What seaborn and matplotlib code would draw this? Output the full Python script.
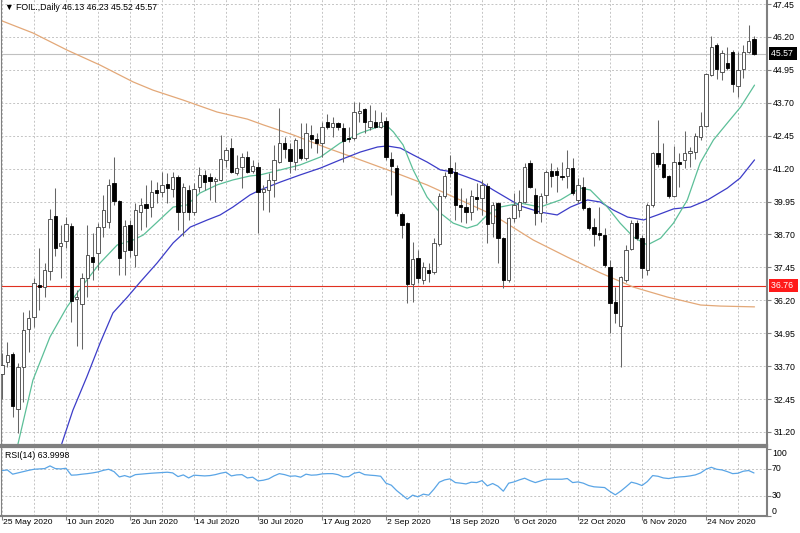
import matplotlib
matplotlib.use('Agg')
import matplotlib.pyplot as plt
import seaborn as sns
import pandas as pd
import numpy as np
from matplotlib.transforms import blended_transform_factory as btf

# ---------------- data ----------------
opens = [33.39, 33.84, 34.15, 32.06, 33.65, 35.10, 35.55, 36.77, 36.69, 37.30,
         39.39, 38.25, 38.44, 39.01, 36.24, 36.05, 37.04, 37.83, 37.99, 38.97,
         39.16, 40.65, 39.96, 38.06, 39.05, 37.91, 39.54, 39.85, 39.73, 40.38,
         40.30, 40.61, 40.42, 40.87, 39.54, 40.38, 39.54, 40.49, 40.95, 40.87,
         40.72, 40.76, 41.52, 41.98, 41.03, 41.25, 41.63, 41.10, 41.25, 40.30,
         40.38, 40.76, 41.44, 42.17, 41.94, 41.44, 41.94, 41.60, 42.47, 42.32,
         42.17, 42.96, 42.77, 42.93, 42.74, 42.36, 42.36, 43.31, 43.46, 42.77,
         42.96, 42.77, 43.00, 41.56, 41.22, 39.47, 39.13, 36.81, 37.80, 36.96,
         37.34, 37.26, 38.33, 40.15, 41.22, 41.06, 39.81, 39.73, 39.54, 40.11,
         40.08, 40.53, 39.13, 39.89, 38.56, 36.96, 39.32, 39.62, 39.92, 41.41,
         40.19, 39.51, 40.19, 41.10, 41.10, 40.91, 40.91, 41.22, 40.00, 40.49,
         39.70, 38.97, 38.75, 38.67, 37.45, 36.12, 35.21, 36.96, 38.14, 39.13,
         38.56, 37.34, 39.81, 41.79, 41.37, 40.91, 40.15, 41.44, 41.52, 41.79,
         41.82, 42.39, 42.81, 44.75, 45.89, 44.86, 45.21, 45.62, 44.33, 44.98,
         45.62, 46.13]
highs = [34.19, 34.60, 34.22, 33.81, 35.74, 35.82, 37.04, 38.18, 37.61, 39.66,
         40.46, 39.05, 39.35, 39.12, 36.58, 37.23, 39.05, 38.75, 39.13, 40.19,
         40.80, 41.63, 40.00, 39.24, 39.24, 39.89, 40.08, 40.57, 40.76, 40.68,
         41.06, 41.03, 41.06, 40.95, 40.65, 40.57, 40.65, 41.25, 41.14, 41.03,
         40.87, 42.47, 42.01, 42.36, 41.71, 41.79, 41.86, 41.52, 41.44, 40.57,
         41.03, 42.09, 43.50, 42.39, 42.17, 42.36, 42.93, 42.93, 42.85, 42.55,
         42.96, 43.27, 43.15, 42.96, 42.93, 42.77, 43.72, 43.72, 43.50, 43.61,
         43.42, 43.34, 43.15, 41.82, 41.33, 39.54, 39.16, 38.40, 38.10, 37.64,
         37.61, 38.56, 40.27, 41.06, 41.71, 41.44, 40.46, 40.08, 40.38, 40.65,
         40.76, 40.65, 39.92, 39.92, 38.60, 39.35, 40.27, 40.38, 41.41, 41.52,
         40.46, 40.27, 41.14, 41.41, 41.25, 41.44, 41.90, 41.60, 40.84, 40.87,
         39.73, 39.32, 39.73, 38.94, 37.72, 36.69, 37.11, 38.29, 39.24, 39.24,
         38.67, 39.89, 41.82, 43.04, 42.17, 40.95, 42.05, 41.79, 42.62, 42.01,
         42.55, 43.34, 44.83, 46.23, 45.97, 45.70, 45.81, 45.70, 45.62, 45.89,
         46.65, 46.23]
lows = [32.44, 33.65, 31.75, 31.15, 32.32, 34.22, 35.17, 35.82, 36.31, 36.96,
        37.87, 37.04, 38.18, 35.36, 34.45, 34.34, 36.31, 36.96, 37.34, 38.59,
        38.94, 39.81, 37.15, 37.15, 37.83, 37.45, 38.86, 38.97, 39.35, 39.89,
        40.11, 39.89, 40.11, 38.86, 38.65, 39.24, 39.43, 40.30, 40.38, 40.00,
        39.92, 40.72, 41.25, 41.03, 40.95, 40.46, 41.03, 41.03, 38.75, 39.62,
        39.54, 40.11, 41.41, 41.60, 41.03, 41.14, 41.52, 41.52, 41.98, 41.79,
        41.63, 42.70, 42.39, 42.66, 41.44, 42.20, 42.28, 42.96, 42.55, 42.66,
        42.74, 42.74, 41.52, 40.19, 39.39, 38.56, 36.09, 36.12, 36.85, 36.81,
        36.88, 37.19, 38.25, 40.08, 40.87, 39.24, 39.16, 39.13, 39.24, 39.62,
        39.43, 38.37, 38.59, 37.61, 36.66, 36.88, 39.16, 39.35, 39.89, 40.46,
        39.05, 39.16, 39.89, 40.49, 40.30, 40.76, 40.46, 40.19, 39.89, 39.62,
        38.86, 38.25, 38.48, 37.45, 34.95, 35.33, 33.65, 36.88, 38.10, 38.48,
        37.04, 37.15, 39.73, 41.25, 40.84, 40.08, 40.11, 40.49, 41.22, 41.25,
        41.56, 42.28, 42.77, 44.71, 44.60, 44.56, 44.94, 44.10, 43.91, 44.64,
        45.59, 45.52]
closes = [33.73, 34.11, 32.17, 33.65, 35.06, 35.52, 36.85, 36.69, 37.34, 39.28,
          38.18, 38.37, 39.09, 36.16, 36.31, 37.04, 37.91, 37.64, 38.97, 39.62,
          40.57, 39.96, 37.80, 39.01, 38.10, 39.62, 39.81, 39.70, 40.30, 40.27,
          40.57, 40.46, 40.87, 39.54, 40.49, 39.54, 40.42, 40.95, 40.68, 40.72,
          40.80, 41.56, 41.90, 41.06, 41.22, 41.63, 41.06, 41.29, 40.30, 40.42,
          40.76, 41.52, 42.17, 41.94, 41.48, 42.28, 41.60, 42.55, 42.32, 42.17,
          42.77, 42.77, 42.93, 42.77, 42.24, 42.32, 43.34, 43.38, 42.96, 43.00,
          42.77, 42.96, 41.63, 41.29, 39.51, 39.05, 36.81, 37.76, 37.04, 37.45,
          37.23, 38.37, 40.15, 40.91, 41.03, 39.81, 39.73, 39.54, 40.15, 40.04,
          40.57, 39.09, 39.81, 38.56, 36.96, 39.32, 39.81, 39.92, 41.25, 40.49,
          39.51, 40.15, 41.06, 40.91, 40.95, 40.89, 41.22, 40.27, 40.57, 39.70,
          38.94, 38.71, 38.67, 37.53, 36.09, 35.71, 37.07, 38.10, 39.13, 38.56,
          37.42, 39.81, 41.79, 41.37, 40.87, 40.15, 41.44, 41.37, 41.79, 41.86,
          42.43, 42.81, 44.79, 45.81, 44.98, 45.59, 45.02, 44.41, 44.94, 45.62,
          46.04, 45.57]

green_bar = [3.0, 5.8, 9.0, 12.2, 14.1, 15.9, 18.4, 21.6, 24.6, 26.5, 29.1, 32.1, 34.7,
             37.1, 40.3, 43.3, 46.5, 48.4, 52.2, 55.9, 59.7, 63.4, 67.2, 70.4, 72.2, 73.4,
             75.2, 77.1, 79.7, 82.2, 84.6, 87.2, 89.1, 91.0, 93.4, 97.2, 100.9, 104.7,
             108.4, 110.3, 113.5, 115.9, 118.4, 121.0, 123.5, 125.9, 128.5, 130.9, 133.4,
             136.0, 138.5, 141.1]
green_val = [30.75, 33.17, 34.81, 35.95, 36.48, 36.97, 37.62, 38.30, 38.49, 38.68, 39.17,
             39.74, 39.82, 40.27, 40.58, 40.77, 40.92, 40.96, 41.15, 41.34, 41.64, 42.17,
             42.55, 42.78, 42.82, 42.59, 42.10, 41.15, 40.12, 39.51, 39.13, 38.94, 39.06,
             39.44, 39.74, 39.89, 39.74, 40.01, 40.46, 40.39, 39.74, 39.13, 38.60, 38.30,
             38.56, 39.13, 40.01, 41.41, 42.29, 42.93, 43.54, 44.37]
blue_bar = [11.2, 13.3, 15.9, 18.4, 20.8, 23.5, 25.9, 29.1, 32.1, 35.3, 38.5, 40.9, 43.3,
            46.5, 48.4, 52.2, 55.9, 59.7, 63.4, 67.2, 70.4, 72.2, 74.7, 77.1, 79.7, 82.2,
            84.6, 87.2, 89.7, 92.1, 94.7, 97.2, 100.9, 104.1, 106.6, 109.8, 112.2, 114.6,
            117.3, 120.3, 122.9, 125.9, 129.1, 132.3, 136.0, 138.4, 141.1]
blue_val = [30.75, 32.03, 33.29, 34.58, 35.72, 36.32, 36.89, 37.62, 38.38, 38.98, 39.25,
            39.44, 39.74, 40.20, 40.39, 40.69, 40.96, 41.22, 41.53, 41.83, 42.02, 42.06,
            41.98, 41.72, 41.45, 41.15, 41.07, 40.88, 40.69, 40.39, 40.08, 39.78, 39.55,
            39.44, 39.74, 40.01, 39.93, 39.63, 39.36, 39.25, 39.44, 39.67, 39.74, 40.01,
            40.46, 40.84, 41.53]
orange_bar = [-0.4, 5.8, 12.2, 18.4, 24.6, 28.3, 34.0, 40.3, 46.0, 49.0, 54.6, 61.0, 67.2,
              73.4, 79.7, 85.9, 92.1, 99.6, 106.0, 112.2, 118.4, 124.8, 131.0, 134.7, 141.1]
orange_val = [46.84, 46.35, 45.70, 45.13, 44.49, 44.18, 43.80, 43.35, 43.08, 42.86, 42.48,
              41.98, 41.53, 41.07, 40.58, 40.01, 39.44, 38.49, 37.84, 37.24, 36.70, 36.32,
              36.02, 35.98, 35.95]

rsi = [67.5, 68.5, 62.2, 64.1, 66.0, 67.9, 69.5, 70.0, 70.5, 74.5,
       70.5, 70.0, 71.0, 60.7, 61.1, 62.2, 63.0, 64.1, 65.5, 67.9,
       69.5, 66.0, 58.1, 60.1, 57.7, 61.5, 62.2, 63.0, 63.6, 64.1,
       64.5, 65.1, 64.1, 58.6, 61.1, 56.6, 60.7, 60.1, 59.6, 60.1,
       61.5, 63.6, 65.1, 59.6, 61.1, 61.5, 56.6, 57.7, 52.2, 53.2,
       55.2, 59.6, 63.0, 61.5, 59.1, 59.6, 57.7, 62.2, 60.7, 61.1,
       62.6, 63.0, 63.0, 61.5, 58.1, 58.6, 63.6, 65.1, 61.5, 60.7,
       60.1, 59.1, 48.8, 45.8, 37.8, 31.5, 25.1, 31.0, 28.5, 32.5,
       31.0, 40.0, 50.3, 53.7, 55.2, 49.7, 48.8, 47.7, 50.3, 49.7,
       52.6, 44.8, 48.3, 44.3, 36.9, 48.8, 50.7, 53.7, 56.2, 52.6,
       49.7, 52.2, 54.7, 54.7, 54.7, 54.7, 55.7, 49.7, 50.7, 48.8,
       45.3, 43.4, 42.8, 42.3, 36.4, 31.5, 36.9, 43.4, 50.3, 48.3,
       45.3, 51.2, 60.1, 59.1, 56.6, 55.7, 57.1, 58.1, 58.6, 59.6,
       61.1, 64.1, 69.5, 72.4, 69.5, 68.5, 66.0, 63.0, 63.6, 66.6,
       67.6, 64.0]

date_bars = [0, 12, 24, 36, 48, 60, 72, 84, 96, 108, 120, 132]
date_labels = ['25 May 2020', '10 Jun 2020', '26 Jun 2020', '14 Jul 2020', '30 Jul 2020',
               '17 Aug 2020', '2 Sep 2020', '18 Sep 2020', '6 Oct 2020', '22 Oct 2020',
               '6 Nov 2020', '24 Nov 2020']
price_ticks = [47.45, 46.20, 44.95, 43.70, 42.45, 41.20, 39.95, 38.70, 37.45, 36.20,
               34.95, 33.70, 32.45, 31.20]
rsi_ticks = [100, 70, 30, 0]
last_price = 45.57
level_price = 36.76
title_text = '\u25BC FOIL.,Daily 46.13 46.23 45.52 45.57'
rsi_text = 'RSI(14) 63.9998'

# ---------------- style ----------------
sns.set_style('white')
plt.rcParams['font.family'] = ['Liberation Sans', 'DejaVu Sans']
plt.rcParams['font.size'] = 6.2

W, H = 800, 533
fig = plt.figure(figsize=(8, 5.33), dpi=100)
fig.patch.set_facecolor('white')


def rect(x0, y0, x1, y1):
    return [x0 / W, 1 - y1 / H, (x1 - x0) / W, (y1 - y0) / H]


ax = fig.add_axes(rect(1, -1, 767, 445))
ax2 = fig.add_axes(rect(1, 447, 767, 516))

n = len(opens)
df = pd.DataFrame({'bar': np.arange(n), 'open': opens, 'high': highs,
                   'low': lows, 'close': closes})
up = df['close'] >= df['open']

grid_kw = dict(color='#c4c4c4', lw=0.7, ls=(0, (2, 2)), zorder=0)
for v in price_ticks:
    ax.axhline(v, **grid_kw)
for b in range(0, 145, 6):
    ax.axvline(b, **grid_kw)
    ax2.axvline(b, **grid_kw)
for v in [70, 30]:
    ax2.axhline(v, **grid_kw)

# reference lines
ax.axhline(last_price, color='#c0c0c0', lw=0.8, zorder=1)
ax.axhline(level_price, color='#e03020', lw=0.8, zorder=1)

# moving averages
sns.lineplot(x=orange_bar, y=orange_val, ax=ax, color='#e3a878', lw=0.9,
             sort=False, estimator=None, zorder=2)
sns.lineplot(x=blue_bar, y=blue_val, ax=ax, color='#3c3cc8', lw=0.9,
             sort=False, estimator=None, zorder=2)
sns.lineplot(x=green_bar, y=green_val, ax=ax, color='#5cbf98', lw=0.9,
             sort=False, estimator=None, zorder=2)

# candles
ax.vlines(df['bar'], df['low'], df['high'], color='#666666', lw=0.75, zorder=3)
u = df[up]
d = df[~up]
ax.bar(u['bar'], u['close'] - u['open'], bottom=u['open'], width=0.58,
       color='white', edgecolor='#404040', lw=0.6, zorder=4)
ax.bar(d['bar'], d['open'] - d['close'], bottom=d['close'], width=0.58,
       color='black', edgecolor='black', lw=0.6, zorder=4)

# RSI
sns.lineplot(x=np.arange(n), y=rsi, ax=ax2, color='#5aa5e6', lw=0.9,
             estimator=None, zorder=2)

# limits
ax.set_xlim(-0.1875, 143.44)
ax2.set_xlim(-0.1875, 143.44)
ax.set_ylim(30.705, 47.640)
ax2.set_ylim(0, 102.6)

for a in (ax, ax2):
    a.set_xlabel('')
    a.set_ylabel('')
    for s in a.spines.values():
        s.set_color('#808080')

ax.spines['top'].set_visible(False)
ax.spines['left'].set_linewidth(0.8)
ax.spines['right'].set_linewidth(1.5)
ax.spines['bottom'].set_linewidth(1.6)
ax2.spines['left'].set_linewidth(0.8)
ax2.spines['right'].set_linewidth(1.5)
ax2.spines['top'].set_linewidth(1.6)
ax2.spines['bottom'].set_linewidth(1.5)

# price axis ticks on right
ax.yaxis.tick_right()
ax.set_yticks(price_ticks)
ax.set_yticklabels([f'{v:.2f}' for v in price_ticks])
ax.tick_params(axis='y', right=True, left=False, length=3, width=0.8,
               color='#808080', pad=1.5, labelsize=6.3, labelcolor='black')
ax.tick_params(axis='x', bottom=False, labelbottom=False)

# RSI axis ticks
ax2.yaxis.tick_right()
ax2.set_yticks(rsi_ticks)
ax2.set_yticklabels([])
ax2.tick_params(axis='y', right=True, left=False, length=3, width=0.8,
                color='#808080')
tr2 = btf(ax2.transAxes, ax2.transData)
for v in rsi_ticks:
    va = 'top' if v == 100 else ('bottom' if v == 0 else 'center')
    ax2.text(1.0 + 5 / 766, v, str(v), transform=tr2, ha='left', va=va,
             fontsize=6.3, color='black')

ax2.set_xticks(date_bars)
ax2.set_xticklabels([])
ax2.tick_params(axis='x', bottom=True, length=3, width=0.8, color='#808080')
trx = btf(ax2.transData, ax2.transAxes)
for b, lab in zip(date_bars, date_labels):
    ax2.text(b + 0.2, -0.10, lab, transform=trx, ha='left', va='center',
             fontsize=6.1, color='black')

# price labels on the right
tr = btf(ax.transAxes, ax.transData)
ax.text(1.0 + 4 / 766, last_price, f'{last_price:.2f} ', transform=tr, ha='left',
        va='center', color='white', fontsize=6.3,
        bbox=dict(boxstyle='square,pad=0.25', fc='black', ec='none'), zorder=6)
ax.text(1.0 + 4 / 766, level_price, f'{level_price:.2f} ', transform=tr, ha='left',
        va='center', color='white', fontsize=6.3,
        bbox=dict(boxstyle='square,pad=0.25', fc='#ff1a1a', ec='none'), zorder=6)

# titles
fig.text(5 / W, 1 - 8 / H, title_text, ha='left', va='center', fontsize=6.3,
         color='black')
fig.text(5 / W, 1 - 455 / H, rsi_text, ha='left', va='center', fontsize=6.3,
         color='black')

fig.savefig('out.png', dpi=100)
